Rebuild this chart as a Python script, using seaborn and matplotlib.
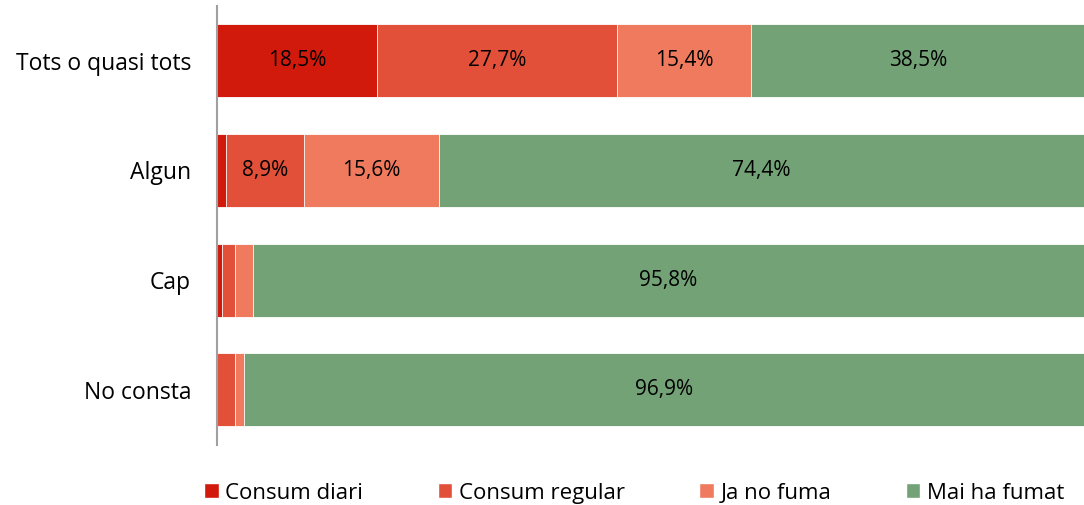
import matplotlib
matplotlib.use('Agg')
import matplotlib.pyplot as plt
import seaborn as sns
import pandas as pd
import numpy as np
from matplotlib.patches import Patch

# Data
groups = ['Tots o quasi tots', 'Algun', 'Cap', 'No consta']
series = ['Consum diari', 'Consum regular', 'Ja no fuma', 'Mai ha fumat']
consum_diari = [18.5, 1.1, 0.6, 0.0]
consum_regular = [27.7, 8.9, 1.5, 2.1]
ja_no_fuma = [15.4, 15.6, 2.1, 1.0]
mai_ha_fumat = [38.5, 74.4, 95.8, 96.9]
colors = ['#D11A0C', '#E3503A', '#EF7A5E', '#72A275']

df = pd.DataFrame({
    'grup': groups,
    'Consum diari': consum_diari,
    'Consum regular': consum_regular,
    'Ja no fuma': ja_no_fuma,
    'Mai ha fumat': mai_ha_fumat,
})

sns.set_style('white')
plt.rcParams['font.family'] = ['Open Sans', 'DejaVu Sans']
plt.rcParams['text.color'] = 'black'
plt.rcParams['ytick.color'] = 'black'

fig = plt.figure(figsize=(10.84, 5.05), dpi=100)
ax = fig.add_axes([0.2, 0.1196, 0.8, 0.869])

# Stacked bars: draw cumulative totals from the widest down
cum = df[series].cumsum(axis=1)
for s, c in reversed(list(zip(series, colors))):
    sns.barplot(data=cum.assign(grup=df['grup']), x=s, y='grup', orient='h',
                color=c, width=0.665, edgecolor='white', linewidth=0.6,
                saturation=1, ax=ax)

# Segment labels
for i, g in enumerate(groups):
    left = 0
    for s in series:
        v = df.loc[i, s]
        if v >= 5:
            ax.text(left + v / 2, i, f'{v:.1f}%'.replace('.', ','),
                    ha='center', va='center', fontsize=15, color='black')
        left += v

ax.set_xlim(0, 100)
ax.set_ylim(3.5, -0.5)
ax.set_xlabel('')
ax.set_ylabel('')
ax.set_xticks([])
ax.tick_params(axis='y', length=0, labelsize=16.5, pad=18.5, labelcolor='black')
for sp in ['top', 'right', 'bottom']:
    ax.spines[sp].set_visible(False)
ax.spines['left'].set_color('#A0A0A0')
ax.spines['left'].set_linewidth(1.5)

handles = [Patch(facecolor=c, label=s) for s, c in zip(series, colors)]
fig.legend(handles=handles, loc='lower center', ncol=4, frameon=False,
           fontsize=16, bbox_to_anchor=(0.585, -0.037), columnspacing=3.35,
           handlelength=0.65, handleheight=0.65, handletextpad=0.3)

fig.savefig('out.png', dpi=100)
